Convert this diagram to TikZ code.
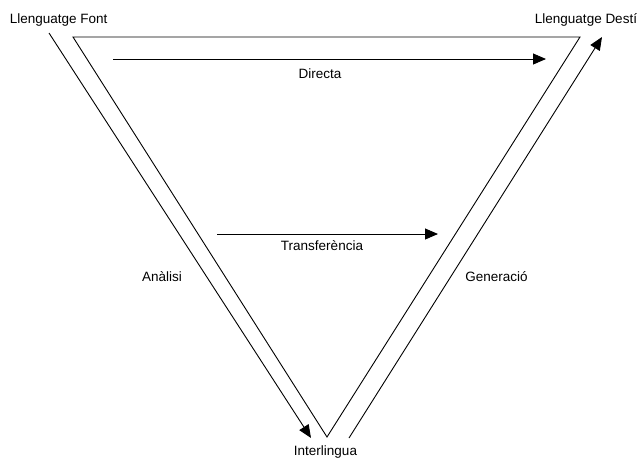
\documentclass[tikz,border=0pt]{standalone}
\usepackage{fontspec}
\setmainfont{Liberation Sans}
\usetikzlibrary{positioning, arrows.meta}

\begin{document}
\begin{tikzpicture}[x=1pt, y=-1pt, line width=0.9pt,
    lbl/.style={anchor=base, inner sep=0pt, font=\fontsize{13.5}{16}\selectfont},
    flow/.style={-{Triangle[length=13pt,width=11pt]}}]
  \useasboundingbox (0,0) rectangle (641,459);

  % the triangle
  \coordinate (tl) at (73,37); \coordinate (tr) at (580,37); \coordinate (bot) at (327,437);
  \draw (tl) -- (tr) -- (bot) -- cycle;

  % analysis and generation
  \coordinate (anaS) at (49,33);   \coordinate (anaE) at (311,438);
  \coordinate (genS) at (349,438); \coordinate (genE) at (602,37);
  \draw[flow] (anaS) -- (anaE);
  \draw[flow] (genS) -- (genE);

  % direct and transfer
  \coordinate (dirS) at (113,59);  \coordinate (dirE) at (546,59);
  \coordinate (traS) at (217,234); \coordinate (traE) at (438,234);
  \draw[flow] (dirS) -- (dirE);
  \draw[flow] (traS) -- (traE);

  \node[lbl] (font)  at (58.7,23)  {Llenguatge Font};
  \node[lbl] (desti) at (586,23)   {Llenguatge Destí};
  \node[lbl] (inter) at (325.5,455) {Interlingua};
  \node[lbl] (dir)   at (320,78)   {Directa};
  \node[lbl] (tra)   at (322,250.5) {Transferència};
  \node[lbl] (ana)   at (162,281.5) {Anàlisi};
  \node[lbl] (gen)   at (496.5,281) {Generació};
\end{tikzpicture}
\end{document}
